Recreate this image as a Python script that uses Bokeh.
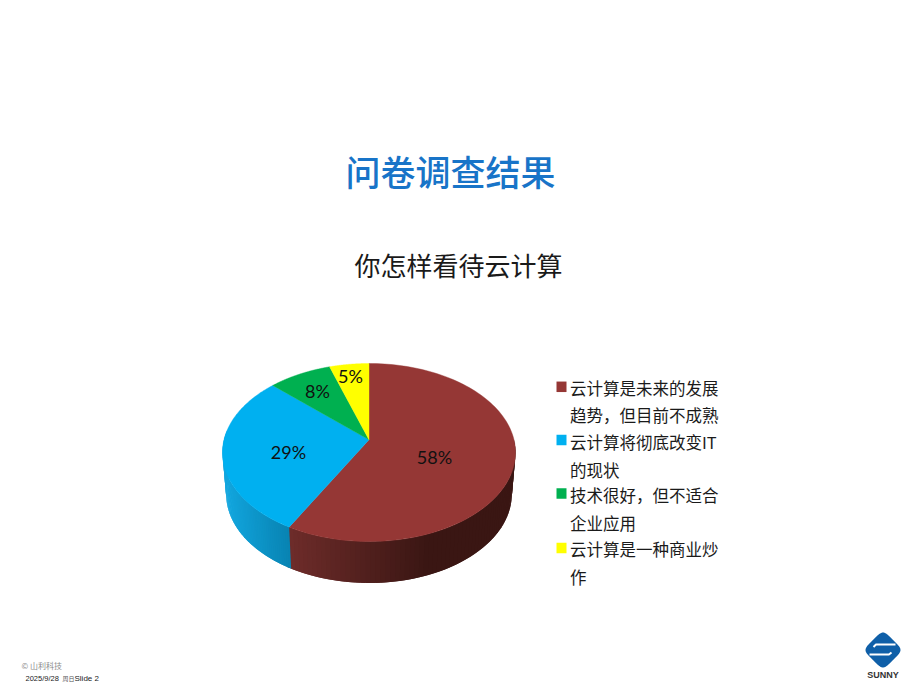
import numpy as np
from bokeh.plotting import figure
from bokeh.models import Range1d
from bokeh.core.properties import value
from bokeh.embed import file_html
from bokeh.resources import INLINE

# ---- data ----
title_text = "问卷调查结果"
subtitle_text = "你怎样看待云计算"
percent_values = [58, 29, 8, 5]
percent_labels = ["58%", "29%", "8%", "5%"]
slice_colors = ["#953735", "#00B0F0", "#00B050", "#FFFF00"]
legend_lines = [
    ["云计算是未来的发展", "趋势，但目前不成熟"],
    ["云计算将彻底改变IT", "的现状"],
    ["技术很好，但不适合", "企业应用"],
    ["云计算是一种商业炒", "作"],
]

# ---- layout (page pixels) ----
CX, CY, RX, RY, K = 368.5, 439.3, 145.0, 87.2, -0.1427
DEPTH, BOTTOM_SCALE = 41.5, 0.975
LABEL_XY = [(434, 456.5), (288, 451), (317, 390), (350, 375.5)]
SWATCH_Y = [386.3, 439.5, 493, 547.5]
LINE_Y = [387, 414.7, 441, 469, 494.7, 522, 548, 576]
CJK = value("Noto Sans CJK SC")

W, H = 910, 684
p = figure(width=W, height=H, output_backend="svg", toolbar_location=None,
           x_range=Range1d(0, W), y_range=Range1d(H, 0), min_border=0,
           outline_line_color=None, background_fill_color="white", border_fill_color="white")
p.axis.visible = False
p.grid.visible = False


def top(theta):
    u, w = np.sin(theta), -np.cos(theta)
    d = 1 + K * w
    return CX + RX * u / d, CY + RY * w / d


def bottom(theta):
    x, y = top(theta)
    return CX + (x - CX) * BOTTOM_SCALE, y + DEPTH


def mix(a, b, f):
    ca = [int(a[i:i + 2], 16) for i in (1, 3, 5)]
    cb = [int(b[i:i + 2], 16) for i in (1, 3, 5)]
    return "#%02x%02x%02x" % tuple(int(round(s + (e - s) * f)) for s, e in zip(ca, cb))


edges = np.cumsum([0] + percent_values) / sum(percent_values) * 2 * np.pi

# side wall: overlapping narrow bands, front half only
xs, ys, cols = [], [], []
for i, color in enumerate(slice_colors):
    a0, a1 = max(edges[i], np.pi / 2), min(edges[i + 1], 3 * np.pi / 2 + 0.1)
    if a1 <= a0:
        continue
    grid = np.linspace(a0, a1, 70)
    step = grid[1] - grid[0]
    for t0 in grid[:-1]:
        t1 = t0 + 2 * step
        tx0, ty0 = top(t0)
        tx1, ty1 = top(t1)
        bx0, by0 = bottom(t0)
        bx1, by1 = bottom(t1)
        xs.append([tx0, tx1, bx1, bx0])
        ys.append([ty0, ty1, by1, by0])
        if i == 0:
            f = np.clip((tx0 - 290) / 140, 0, 1)
            cols.append(mix("#6e2c2a", "#3a1613", f))
        else:
            f = np.clip((tx0 - 225) / 65, 0, 1)
            cols.append(mix("#12a6de", "#0883b2", f))
p.patches(xs, ys, fill_color=cols, line_color=None)

# top face
for i, color in enumerate(slice_colors):
    tx, ty = top(np.linspace(edges[i], edges[i + 1], 120))
    p.patch(np.r_[CX, tx], np.r_[CY, ty], fill_color=color, line_color=color, line_width=0.4)

for (lx, ly), lab in zip(LABEL_XY, percent_labels):
    p.text([lx], [ly], text=[lab], text_font=value("Lato"), text_font_size="18px",
           text_align="center", text_baseline="middle", text_color="#111111")

# titles
p.text([450], [170], text=[title_text], text_font=value("Noto Sans CJK SC Medium"), text_font_size="35px",
       text_align="center", text_baseline="middle", text_color="#1874C8")
p.text([458], [264], text=[subtitle_text], text_font=CJK, text_font_size="26px",
       text_align="center", text_baseline="middle", text_color="#1a1a1a")

# legend
flat = [ln for pair in legend_lines for ln in pair]
p.rect([561] * 4, SWATCH_Y, width=10, height=10.5, fill_color=slice_colors, line_color=None)
p.text([569.5] * len(flat), LINE_Y, text=flat, text_font=CJK, text_font_size="16.5px",
       text_align="left", text_baseline="middle", text_color="#1a1a1a")

# footer
p.text([21], [665], text=["© 山利科技"], text_font=CJK, text_font_size="8px",
       text_baseline="middle", text_color="#8c8c8c")
p.text([25], [678], text=["2025/9/28"], text_font=value("Liberation Sans"), text_font_size="7.5px",
       text_baseline="middle", text_color="#222222")
p.text([62], [678], text=["周日"], text_font=CJK, text_font_size="6px",
       text_baseline="middle", text_color="#555555")
p.text([74], [678], text=["Slide 2"], text_font=value("Liberation Sans"), text_font_size="8px",
       text_baseline="middle", text_color="#222222")

# logo: rounded diamond
LX, LY = 882.5, 649.5
ang = np.linspace(0, 2 * np.pi, 200)
n = 5.0
rad = (np.abs(np.cos(ang)) ** n + np.abs(np.sin(ang)) ** n) ** (-1 / n)
sx, sy = 14.2 * rad * np.cos(ang), 14.2 * rad * np.sin(ang)
p.patch(LX + (sx - sy) / np.sqrt(2), LY + (sx + sy) / np.sqrt(2), fill_color="#0F5FA8", line_color=None)
p.line([LX + 12.5, LX - 7, LX - 9.5], [LY - 5.5, LY - 5.5, LY - 3], line_color="white", line_width=2)
p.line([LX + 8.5, LX + 6, LX - 13.5], [LY + 2.5, LY + 4.5, LY + 4.5], line_color="white", line_width=2)
p.text([LX], [674], text=["SUNNY"], text_font=value("Liberation Sans"), text_font_size="9px",
       text_font_style="bold", text_align="center", text_baseline="middle", text_color="#333333")

open("out.html", "w").write(file_html(p, INLINE))
